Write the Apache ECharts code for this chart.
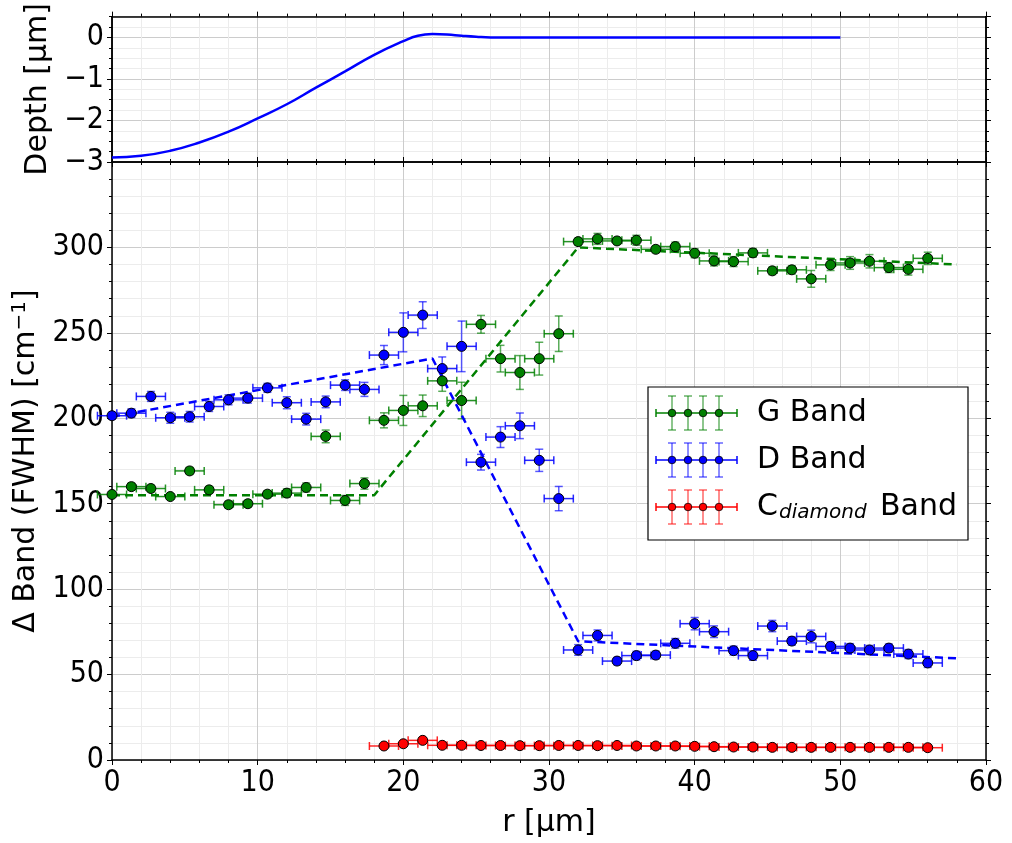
<!DOCTYPE html>
<html>
<head>
<meta charset="utf-8">
<script src="https://cdn.jsdelivr.net/npm/echarts@6/dist/echarts.min.js"></script>
<style>
  html, body { margin: 0; padding: 0; background: #ffffff; }
  #chart { width: 1012px; height: 843px; }
</style>
</head>
<body>
<div id="chart"></div>
<script>
// Radial scan positions [µm]
const rPos = [0, 1.33, 2.67, 4, 5.33, 6.67, 8, 9.33, 10.67, 12, 13.33, 14.67, 16, 17.33, 18.67,
  20, 21.33, 22.67, 24, 25.33, 26.67, 28, 29.33, 30.67,
  32, 33.33, 34.67, 36, 37.33, 38.67, 40, 41.33, 42.67, 44, 45.33, 46.67, 48, 49.33, 50.67, 52, 53.33, 54.67, 56];
// Half width of the horizontal (position) error bars [µm]
const rHalfWidth = 1.0;

// G band FWHM [cm^-1] and its uncertainty
const gBand = [155.4, 160, 158.9, 154.2, 169.2, 158.1, 149.4, 150, 155.6, 156.2, 159.5, 189.4, 151.9, 161.8, 198.8,
  204.6, 207.3, 221.9, 210.4, 255, 234.9, 226.8, 234.9, 249.5,
  303.4, 305, 303.8, 304.2, 298.9, 300.5, 296.6, 292.1, 291.7, 296.8, 286.3, 286.9, 281.6, 289.8, 290.9, 291.9, 288.2, 287.2, 293.6];
const gErr = [1.5, 2, 2, 1.5, 2, 2, 2, 2, 2, 2.5, 2.6, 3.7, 2.9, 3.3, 4.4,
  8.8, 6.3, 6.1, 10.7, 5.2, 7.8, 9.9, 9.6, 10.4,
  2, 3.2, 2, 2.9, 2, 2.6, 2.6, 2.9, 2.9, 2.5, 2.2, 2.4, 4.9, 3.3, 3.7, 3.9, 2.9, 3.4, 3.6];

// D band FWHM [cm^-1] and its uncertainty
const dBand = [201.5, 203, 212.8, 200.3, 200.9, 206.9, 210.8, 211.8, 217.8, 209.1, 199.5, 209.6, 219.4, 216.9, 237,
  250.3, 260.4, 229.1, 242.1, 174.3, 189, 195.6, 175.4, 153,
  64.4, 72.9, 57.9, 61.1, 61.4, 68.3, 79.8, 75.1, 64, 61.1, 78.4, 69.6, 72.3, 66.5, 65.5, 64.4, 65.5, 62, 56.8];
const dErr = [2, 2.5, 2.9, 3.2, 3.1, 2.9, 2.9, 2.9, 2.6, 3.5, 3.4, 3.4, 3.1, 4.1, 5.6,
  11.4, 7.8, 6.8, 14.8, 4.6, 6.1, 7.5, 6.5, 7.1,
  3.1, 3.2, 2.1, 2.5, 2.3, 2.8, 3.6, 3.4, 2.6, 2.7, 3.3, 2.4, 3.7, 2.6, 2.6, 2.6, 2.4, 2.6, 2.6];

// Diamond line FWHM [cm^-1], measured from r = 18.67 µm outwards
const cPos = [18.67, 20, 21.33, 22.67, 24, 25.33, 26.67, 28, 29.33, 30.67,
  32, 33.33, 34.67, 36, 37.33, 38.67, 40, 41.33, 42.67, 44, 45.33, 46.67, 48, 49.33, 50.67, 52, 53.33, 54.67, 56];
const cBand = [8.2, 9.5, 11.5, 8.6, 8.6, 8.5, 8.5, 8.4, 8.4, 8.5,
  8.5, 8.4, 8.5, 8.2, 8.2, 8.2, 8.0, 7.8, 7.6, 7.6, 7.4, 7.4, 7.4, 7.4, 7.4, 7.4, 7.4, 7.4, 7.2];
const cErr = [1.2, 1.5, 1.5, 1, 1, 1, 1, 1, 1, 1,
  1, 1, 1, 1, 1, 1, 1, 1, 1, 1, 1, 1, 1, 1, 1, 1, 1, 1, 1];

// Piecewise-linear trend lines (knots)
const gFitR = [0, 18, 32, 58];
const gFitV = [155, 155, 300, 290];
const dFitR = [0, 22, 32, 58];
const dFitV = [201, 235, 69.5, 59.5];

// Surface profile of the crater [µm]
const depthR = [0, 2, 4, 6, 8, 10, 12, 14, 16, 18, 20, 21, 22, 23, 24, 25, 26, 27, 30, 40, 50];
const depthZ = [-2.89, -2.85, -2.73, -2.53, -2.27, -1.95, -1.61, -1.21, -0.82, -0.42, -0.09, 0.04, 0.08, 0.07, 0.04, 0.015, 0, 0, 0, 0, 0];

const GREEN = '#008000', BLUE = '#0000ff', RED = '#ff0000';
const legendItems = [
  { label: 'G Band', color: GREEN },
  { label: 'D Band', color: BLUE },
  { label: 'C', sub: 'diamond', tail: 'Band', color: RED }
];

const FONT = '"DejaVu Sans", sans-serif';
const TICKFONT = '"DejaVu Sans Condensed", "DejaVu Sans", sans-serif';
const MAJOR_GRID = '#cccccc', MINOR_GRID = '#ececec';
const minus = v => String(v).replace('-', '\u2212');

const axisLine = { show: true, onZero: false, lineStyle: { color: '#000', width: 1.5 } };
const tickLine = { color: '#000', width: 1 };

function xAxisDef(gridIndex, position, withLabels) {
  const bottom = position === 'bottom';
  return {
    type: 'value', gridIndex, position, min: 0, max: 60, interval: 10,
    axisLine,
    axisTick: { show: true, inside: false, length: 5, lineStyle: tickLine },
    minorTick: { show: true, splitNumber: 5, length: 3, lineStyle: tickLine },
    axisLabel: withLabels
      ? { show: true, margin: 8, fontFamily: TICKFONT, fontSize: 30, color: '#000' }
      : { show: false },
    splitLine: { show: bottom, lineStyle: { color: MAJOR_GRID, width: 1 } },
    minorSplitLine: { show: bottom, lineStyle: { color: MINOR_GRID, width: 1 } },
    name: withLabels ? 'r [μm]' : '',
    nameLocation: 'middle', nameGap: 48,
    nameTextStyle: { fontFamily: FONT, fontSize: 30, color: '#000' }
  };
}

// Top panel y axes: one for the 0.25 µm minor grid, one for the labelled 1 µm steps
function depthAxis(position, minor, withLabels) {
  return {
    type: 'value', gridIndex: 0, position, min: -3, max: 0.5, interval: minor ? 0.25 : 1,
    axisLine,
    axisTick: { show: true, inside: false, length: minor ? 3 : 5, lineStyle: tickLine },
    axisLabel: withLabels
      ? { show: true, margin: 8, showMaxLabel: false, formatter: minus,
          fontFamily: TICKFONT, fontSize: 30, color: '#000' }
      : { show: false },
    splitLine: { show: position === 'left',
      lineStyle: { color: minor ? MINOR_GRID : MAJOR_GRID, width: 1 } },
    name: withLabels ? 'Depth [μm]' : '',
    nameLocation: 'middle', nameGap: 56, nameRotate: 90,
    nameTextStyle: { fontFamily: FONT, fontSize: 30, color: '#000' }
  };
}

function bandAxis(position, withLabels) {
  const left = position === 'left';
  return {
    type: 'value', gridIndex: 1, position, min: 0, max: 350, interval: 50,
    axisLine,
    axisTick: { show: true, inside: false, length: 5, lineStyle: tickLine },
    minorTick: { show: true, splitNumber: 5, length: 3, lineStyle: tickLine },
    axisLabel: withLabels
      ? { show: true, margin: 8, showMaxLabel: false,
          fontFamily: TICKFONT, fontSize: 30, color: '#000' }
      : { show: false },
    splitLine: { show: left, lineStyle: { color: MAJOR_GRID, width: 1 } },
    minorSplitLine: { show: left, lineStyle: { color: MINOR_GRID, width: 1 } },
    name: withLabels ? 'Δ Band (FWHM) [cm{sup|−1}]' : '',
    nameLocation: 'middle', nameGap: 66, nameRotate: 90,
    nameTextStyle: { fontFamily: FONT, fontSize: 30, color: '#000',
      rich: { sup: { fontFamily: FONT, fontSize: 20, color: '#000', verticalAlign: 'top', padding: [0, 0, 14, 0] } } }
  };
}

// Error bars (x and y) drawn through the axes' own scales
function errorBars(color) {
  return function (params, api) {
    const r = api.value(0), v = api.value(1), ex = api.value(2), ey = api.value(3);
    const l = api.coord([r - ex, v]), rt = api.coord([r + ex, v]);
    const t = api.coord([r, v + ey]), b = api.coord([r, v - ey]);
    const c = 4;
    const hs = { stroke: color, lineWidth: 1.5, opacity: 0.85 };
    const vs = { stroke: color, lineWidth: 1.5, opacity: 0.65 };
    const seg = (x1, y1, x2, y2, style) => ({ type: 'line', shape: { x1, y1, x2, y2 }, style });
    return {
      type: 'group',
      children: [
        seg(l[0], l[1], rt[0], rt[1], hs),
        seg(l[0], l[1] - c, l[0], l[1] + c, hs),
        seg(rt[0], rt[1] - c, rt[0], rt[1] + c, hs),
        seg(t[0], t[1], b[0], b[1], vs),
        seg(t[0] - c, t[1], t[0] + c, t[1], vs),
        seg(b[0] - c, b[1], b[0] + c, b[1], vs)
      ]
    };
  };
}

function bandSeries(name, color, xs, vals, errs, fitR, fitV) {
  const out = [{
    name: name + ' errors', type: 'custom', xAxisIndex: 2, yAxisIndex: 4, z: 2, silent: true,
    renderItem: errorBars(color), encode: { x: 0, y: 1 },
    data: xs.map((r, i) => [r, vals[i], rHalfWidth, errs[i]])
  }];
  if (fitR) {
    out.push({
      name: name + ' trend', type: 'line', xAxisIndex: 2, yAxisIndex: 4, z: 3, silent: true,
      symbol: 'none', lineStyle: { color, width: 2.5, type: [8, 5] },
      data: fitR.map((r, i) => [r, fitV[i]])
    });
  }
  out.push({
    name, type: 'scatter', xAxisIndex: 2, yAxisIndex: 4, z: 4, silent: true,
    symbol: 'circle', symbolSize: 10,
    itemStyle: { color, borderColor: '#000', borderWidth: 1, opacity: 1 },
    data: xs.map((r, i) => [r, vals[i]])
  });
  return out;
}

// Hand-drawn legend with error-bar glyphs
function legendGraphic() {
  const box = { x: 648, y: 387, w: 320, h: 153 };
  const rowY = [413, 460, 507];
  const lineX0 = 656, lineX1 = 737, dotX = [672, 688, 703, 719], textX = 757;
  const els = [{
    type: 'rect', z: 100,
    shape: { x: box.x, y: box.y, width: box.w, height: box.h },
    style: { fill: '#ffffff', stroke: '#000', lineWidth: 1.2 }
  }];
  legendItems.forEach((it, k) => {
    const y = rowY[k];
    const hs = { stroke: it.color, lineWidth: 1.5 };
    const vs = { stroke: it.color, lineWidth: 1.5, opacity: 0.6 };
    els.push({ type: 'line', z: 101, shape: { x1: lineX0, y1: y, x2: lineX1, y2: y }, style: hs });
    els.push({ type: 'line', z: 101, shape: { x1: lineX0, y1: y - 4, x2: lineX0, y2: y + 4 }, style: hs });
    els.push({ type: 'line', z: 101, shape: { x1: lineX1, y1: y - 4, x2: lineX1, y2: y + 4 }, style: hs });
    dotX.forEach(x => {
      els.push({ type: 'line', z: 101, shape: { x1: x, y1: y - 17, x2: x, y2: y + 17 }, style: vs });
      els.push({ type: 'line', z: 101, shape: { x1: x - 4, y1: y - 17, x2: x + 4, y2: y - 17 }, style: vs });
      els.push({ type: 'line', z: 101, shape: { x1: x - 4, y1: y + 17, x2: x + 4, y2: y + 17 }, style: vs });
      els.push({ type: 'circle', z: 102, shape: { cx: x, cy: y, r: 3.8 },
        style: { fill: it.color, stroke: '#000', lineWidth: 0.8 } });
    });
    if (it.sub) {
      els.push({ type: 'text', z: 102, x: textX, y: y,
        style: { text: it.label, font: '30px ' + FONT, fill: '#000', verticalAlign: 'middle', align: 'left' } });
      els.push({ type: 'text', z: 102, x: textX + 22, y: y + 6,
        style: { text: it.sub, font: 'italic 20px ' + FONT, fill: '#000', verticalAlign: 'middle', align: 'left' } });
      els.push({ type: 'text', z: 102, x: textX + 123, y: y,
        style: { text: it.tail, font: '30px ' + FONT, fill: '#000', verticalAlign: 'middle', align: 'left' } });
    } else {
      els.push({ type: 'text', z: 102, x: textX, y: y,
        style: { text: it.label, font: '30px ' + FONT, fill: '#000', verticalAlign: 'middle', align: 'left' } });
    }
  });
  return els;
}

const chart = echarts.init(document.getElementById('chart'), null, { renderer: 'canvas' });
chart.setOption({
  animation: false,
  backgroundColor: '#ffffff',
  grid: [
    { left: 112, right: 26, top: 16, height: 146 },
    { left: 112, right: 26, top: 162, bottom: 80 }
  ],
  xAxis: [
    xAxisDef(0, 'bottom', false),
    xAxisDef(0, 'top', false),
    xAxisDef(1, 'bottom', true),
    xAxisDef(1, 'top', false)
  ],
  yAxis: [
    depthAxis('left', true, false),
    depthAxis('left', false, true),
    depthAxis('right', true, false),
    depthAxis('right', false, false),
    bandAxis('left', true),
    bandAxis('right', false)
  ],
  series: [
    {
      name: 'Depth', type: 'line', xAxisIndex: 0, yAxisIndex: 1, silent: true,
      symbol: 'none', smooth: 0.5,
      lineStyle: { color: BLUE, width: 2.5 },
      data: depthR.map((r, i) => [r, depthZ[i]])
    },
    ...bandSeries('G Band', GREEN, rPos, gBand, gErr, gFitR, gFitV),
    ...bandSeries('D Band', BLUE, rPos, dBand, dErr, dFitR, dFitV),
    ...bandSeries('C diamond Band', RED, cPos, cBand, cErr, null, null)
  ],
  graphic: legendGraphic()
});
</script>
</body>
</html>
